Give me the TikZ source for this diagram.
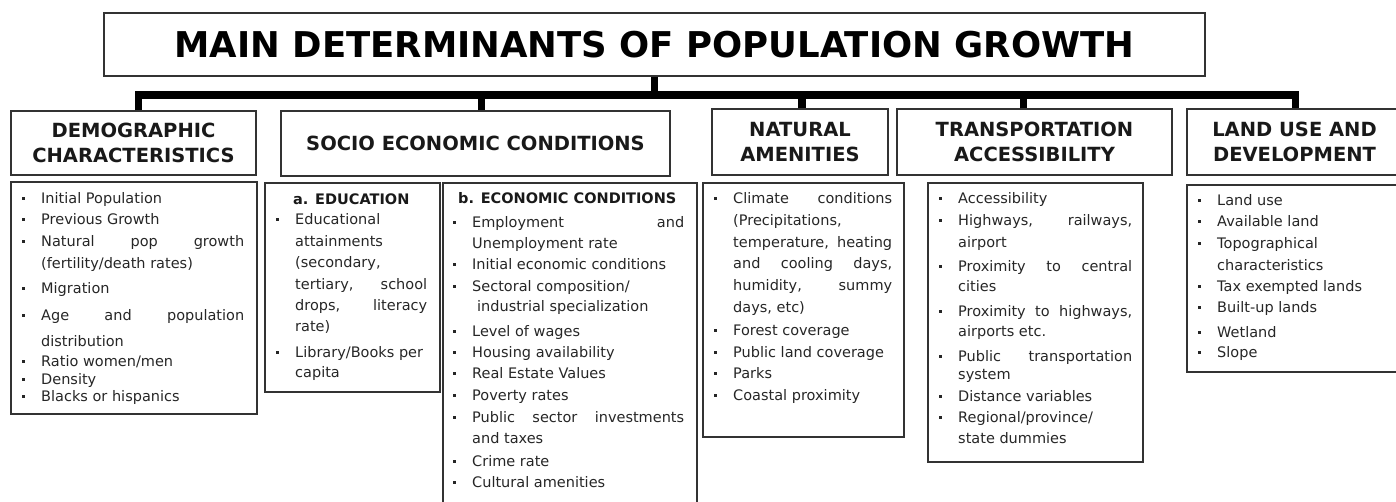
\documentclass[tikz,border=0pt]{standalone}
\usepackage{fontspec}
\setmainfont{DejaVu Sans}

% small square bullet hanging left of the item text
\newcommand\bul{\llap{\raisebox{3.4pt}{\rule{2.6pt}{2.6pt}}\hspace{16.5pt}}}
% a line stretched to the full column width
\newcommand\js[2]{\makebox[#1pt][s]{#2}}
% one text line of a list
\newcommand\li[4]{\node[item] (#1) at (#2,#3) {#4};}

\tikzset{
  frame/.style={draw=black!80, line width=1.3pt, inner sep=0pt},
  titlebox/.style={frame, line width=1.1pt, font=\fontsize{35.5}{40}\selectfont\bfseries},
  headbox/.style={frame, align=center, font=\fontsize{19.5}{25}\selectfont\bfseries, text=black!90},
  panel/.style={frame},
  item/.style={anchor=base west, inner sep=0pt, font=\fontsize{14.5}{17}\selectfont, text=black!85},
  subhead/.style={item, font=\fontsize{14.5}{17}\selectfont\bfseries, text=black!90},
  trunk/.style={line width=7.5pt, line join=miter, line cap=butt},
}

\begin{document}
\begin{tikzpicture}[x=1pt, y=-1pt]
\useasboundingbox (0,0) rectangle (1396,501);

% title
\node[titlebox, minimum width=1101pt, minimum height=63pt] (title) at (654.5,44.5)
  {MAIN DETERMINANTS OF POPULATION GROWTH};

% category headers
\node[headbox, minimum width=245pt, minimum height=64pt] (dh) at (133.5,143) {DEMOGRAPHIC\\CHARACTERISTICS};
\node[headbox, minimum width=389pt, minimum height=65pt] (sh) at (475.5,143.5) {SOCIO ECONOMIC CONDITIONS};
\node[headbox, minimum width=176pt, minimum height=66pt] (nh) at (800,142) {NATURAL\\AMENITIES};
\node[headbox, minimum width=275pt, minimum height=66pt] (th) at (1034.5,142) {TRANSPORTATION\\ACCESSIBILITY};
\node[headbox, minimum width=215pt, minimum height=66pt] (lh) at (1294.5,142) {LAND USE AND\\DEVELOPMENT};

% tree connectors
\coordinate (bus) at (655,95);
\draw[trunk] (title.south) -- (title.south |- bus);
\draw[trunk] ([xshift=5pt]dh.north) |- ([xshift=1pt]lh.north |- bus) -- ([xshift=1pt]lh.north);
\draw[trunk] ([xshift=6pt]sh.north) -- ([xshift=6pt]sh.north |- bus);
\draw[trunk] ([xshift=2pt]nh.north) -- ([xshift=2pt]nh.north |- bus);
\draw[trunk] ([xshift=-11pt]th.north) -- ([xshift=-11pt]th.north |- bus);

% content panels
\node[panel, minimum width=246pt, minimum height=232pt] (dp) at (134,298) {};
\node[panel, minimum width=175pt, minimum height=209pt] (ep) at (352.5,287.5) {};
\node[panel, minimum width=254pt, minimum height=327pt] (cp) at (570,346.5) {};
\node[panel, minimum width=201pt, minimum height=254pt] (np) at (803.5,310) {};
\node[panel, minimum width=215pt, minimum height=279pt] (tp) at (1035.5,322.5) {};
\node[panel, minimum width=215pt, minimum height=187pt] (lp) at (1294.5,278.5) {};

% demographic characteristics
\li{d1}{41}{203}{\bul Initial Population}
\li{d2}{41}{224}{\bul Previous Growth}
\li{d3}{41}{246}{\bul\js{203}{Natural pop growth}}
\li{d4}{41}{268}{(fertility/death rates)}
\li{d5}{41}{293}{\bul Migration}
\li{d6}{41}{320}{\bul\js{203}{Age and population}}
\li{d7}{41}{346}{distribution}
\li{d8}{41}{366}{\bul Ratio women/men}
\li{d9}{41}{384}{\bul Density}
\li{d10}{41}{401}{\bul Blacks or hispanics}

% education
\node[subhead] (e0) at (293,204) {a. EDUCATION};
\li{e1}{295}{224}{\bul Educational}
\li{e2}{295}{246}{attainments}
\li{e3}{295}{267}{(secondary,}
\li{e4}{295}{289}{\js{132}{tertiary, school}}
\li{e5}{295}{310}{\js{132}{drops, literacy}}
\li{e6}{295}{331}{rate)}
\li{e7}{295}{357}{\bul Library/Books per}
\li{e8}{295}{377}{capita}

% economic conditions
\node[subhead] (c0) at (458,203) {b. ECONOMIC CONDITIONS};
\li{c1}{472}{227}{\bul\js{212}{Employment and}}
\li{c2}{472}{248}{Unemployment rate}
\li{c3}{472}{269}{\bul Initial economic conditions}
\li{c4}{472}{291}{\bul Sectoral composition/}
\li{c5}{477}{311}{industrial specialization}
\li{c6}{472}{336}{\bul Level of wages}
\li{c7}{472}{357}{\bul Housing availability}
\li{c8}{472}{378}{\bul Real Estate Values}
\li{c9}{472}{400}{\bul Poverty rates}
\li{c10}{472}{422}{\bul\js{212}{Public sector investments}}
\li{c11}{472}{443}{and taxes}
\li{c12}{472}{466}{\bul Crime rate}
\li{c13}{472}{487}{\bul Cultural amenities}

% natural amenities
\li{n1}{733}{203}{\bul\js{159}{Climate conditions}}
\li{n2}{733}{225}{(Precipitations,}
\li{n3}{733}{247}{\js{159}{temperature, heating}}
\li{n4}{733}{268}{\js{159}{and cooling days,}}
\li{n5}{733}{290}{\js{159}{humidity, summy}}
\li{n6}{733}{312}{days, etc)}
\li{n7}{733}{335}{\bul Forest coverage}
\li{n8}{733}{357}{\bul Public land coverage}
\li{n9}{733}{378}{\bul Parks}
\li{n10}{733}{400}{\bul Coastal proximity}

% transportation accessibility
\li{t1}{958}{203}{\bul Accessibility}
\li{t2}{958}{225}{\bul\js{174}{Highways, railways,}}
\li{t3}{958}{247}{airport}
\li{t4}{958}{271}{\bul\js{174}{Proximity to central}}
\li{t5}{958}{291}{cities}
\li{t6}{958}{316}{\bul\js{174}{Proximity to highways,}}
\li{t7}{958}{336}{airports etc.}
\li{t8}{958}{361}{\bul\js{174}{Public transportation}}
\li{t9}{958}{379}{system}
\li{t10}{958}{401}{\bul Distance variables}
\li{t11}{958}{422}{\bul Regional/province/}
\li{t12}{958}{443}{state dummies}

% land use and development
\li{l1}{1217}{205}{\bul Land use}
\li{l2}{1217}{226}{\bul Available land}
\li{l3}{1217}{248}{\bul Topographical}
\li{l4}{1217}{270}{characteristics}
\li{l5}{1217}{291}{\bul Tax exempted lands}
\li{l6}{1217}{312}{\bul Built-up lands}
\li{l7}{1217}{337}{\bul Wetland}
\li{l8}{1217}{357}{\bul Slope}
\end{tikzpicture}
\end{document}
